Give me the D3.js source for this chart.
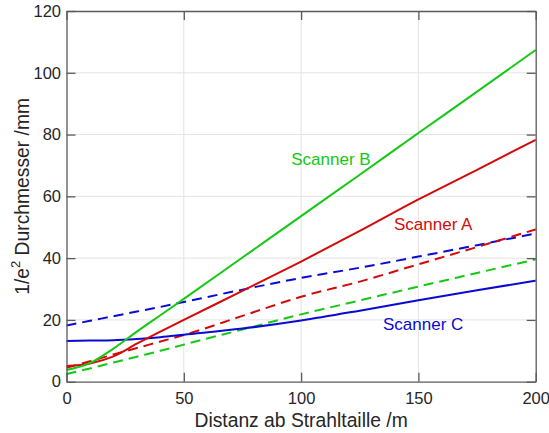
<!DOCTYPE html>
<html>
<head>
<meta charset="utf-8">
<script src="https://cdn.jsdelivr.net/npm/d3@7"></script>
<style>
  body { margin: 0; background: #fff; }
  text { font-family: "Liberation Sans", Arial, Helvetica, sans-serif; }
</style>
</head>
<body>
<svg id="chart"></svg>
<script>
// distance from beam waist in m
var distances = [0, 10, 20, 30, 40, 50, 75, 100, 125, 150, 175, 200];

// 1/e^2 diameter in mm
var scannerA = [5.1, 5.9, 8.2, 12.3, 16.2, 20.0, 29.4, 38.9, 48.8, 59.0, 68.6, 78.3];
var scannerB = [3.8, 6.0, 10.7, 16.2, 21.5, 26.8, 40.2, 53.6, 67.0, 80.5, 93.9, 107.4];
var scannerC = [13.2, 13.3, 13.4, 13.8, 14.4, 15.2, 17.2, 19.8, 23.0, 26.4, 29.6, 32.7];
var scannerAdash = [4.5, 6.6, 8.8, 10.9, 13.0, 15.1, 21.3, 27.5, 32.4, 38.0, 43.6, 49.3];
var scannerBdash = [2.5, 4.3, 6.2, 8.1, 10.0, 12.0, 16.9, 21.8, 26.3, 30.8, 35.2, 39.6];
var scannerCdash = [18.2, 19.7, 21.2, 22.7, 24.2, 25.8, 29.8, 33.6, 36.9, 40.5, 44.2, 48.0];

var xTicks = [0, 50, 100, 150, 200];
var yTicks = [0, 20, 40, 60, 80, 100, 120];

var series = [
  {values: scannerCdash, color: '#0a0ad2', dash: '10,6'},
  {values: scannerAdash, color: '#d20a0a', dash: '10,6'},
  {values: scannerBdash, color: '#14c814', dash: '10,6'},
  {values: scannerC, color: '#0a0ad2', dash: null},
  {values: scannerA, color: '#d20a0a', dash: null},
  {values: scannerB, color: '#14c814', dash: null}
];

// label anchors in data units
var labels = [
  {text: 'Scanner B', x: 95.8, y: 70.3, color: '#14c814'},
  {text: 'Scanner A', x: 139.6, y: 49.0, color: '#d20a0a'},
  {text: 'Scanner C', x: 134.9, y: 16.6, color: '#0a0ad2'}
];

var W = 549, H = 433;
var margin = {left: 66.5, right: 13.3, top: 11, bottom: 51.3};

var svg = d3.select('#chart').attr('width', W).attr('height', H);

var x = d3.scaleLinear().domain([0, 200]).range([margin.left, W - margin.right]);
var y = d3.scaleLinear().domain([0, 120]).range([H - margin.bottom, margin.top]);

var axisColor = '#5a5a5a', textColor = '#262626', gridColor = '#e3e3e3';

// grid
var grid = svg.append('g');
grid.selectAll('line.gx').data(xTicks.slice(1, -1)).enter().append('line')
  .attr('x1', function(d){ return x(d); }).attr('x2', function(d){ return x(d); })
  .attr('y1', y(0)).attr('y2', y(120))
  .attr('stroke', gridColor).attr('stroke-width', 1);
grid.selectAll('line.gy').data(yTicks.slice(1, -1)).enter().append('line')
  .attr('y1', function(d){ return y(d); }).attr('y2', function(d){ return y(d); })
  .attr('x1', x(0)).attr('x2', x(200))
  .attr('stroke', gridColor).attr('stroke-width', 1);

// lines
var line = d3.line()
  .x(function(d, i){ return x(distances[i]); })
  .y(function(d){ return y(d); })
  .curve(d3.curveMonotoneX);

svg.append('g').selectAll('path').data(series).enter().append('path')
  .attr('d', function(s){ return line(s.values); })
  .attr('fill', 'none')
  .attr('stroke', function(s){ return s.color; })
  .attr('stroke-width', 2)
  .attr('stroke-dasharray', function(s){ return s.dash; });

// axes, ticks inside, box on
var tl = 9;
var xB = svg.append('g').attr('transform', 'translate(0,' + y(0) + ')')
  .call(d3.axisBottom(x).tickValues(xTicks).tickSizeInner(-tl).tickSizeOuter(0).tickPadding(10.5));
var xT = svg.append('g').attr('transform', 'translate(0,' + y(120) + ')')
  .call(d3.axisTop(x).tickValues(xTicks).tickSizeInner(-tl).tickSizeOuter(0).tickFormat(''));
var yL = svg.append('g').attr('transform', 'translate(' + x(0) + ',0)')
  .call(d3.axisLeft(y).tickValues(yTicks).tickSizeInner(-tl).tickSizeOuter(0).tickPadding(5.5));
var yR = svg.append('g').attr('transform', 'translate(' + x(200) + ',0)')
  .call(d3.axisRight(y).tickValues(yTicks).tickSizeInner(-tl).tickSizeOuter(0).tickFormat(''));

[xB, xT, yL, yR].forEach(function(g){
  g.select('.domain').attr('stroke', axisColor).attr('stroke-width', 1.3);
  g.selectAll('.tick line').attr('stroke', axisColor).attr('stroke-width', 1.3);
  g.selectAll('.tick text').attr('fill', textColor)
    .style('font-size', '16.5px').style('font-family', '"Liberation Sans", Arial, sans-serif');
});

// curve labels
svg.append('g').selectAll('text').data(labels).enter().append('text')
  .attr('x', function(d){ return x(d.x); })
  .attr('y', function(d){ return y(d.y); })
  .attr('fill', function(d){ return d.color; })
  .style('font-size', '17px')
  .text(function(d){ return d.text; });

// axis titles
svg.append('text')
  .attr('x', (x(0) + x(200)) / 2).attr('y', 427)
  .attr('text-anchor', 'middle')
  .attr('fill', textColor)
  .style('font-size', '19.3px')
  .text('Distanz ab Strahltaille /m');

var yt = svg.append('text')
  .attr('transform', 'translate(28.5,' + ((y(0) + y(120)) / 2) + ') rotate(-90)')
  .attr('text-anchor', 'middle')
  .attr('fill', textColor)
  .style('font-size', '19.3px');
yt.append('tspan').text('1/e');
yt.append('tspan').attr('dy', -9).style('font-size', '13px').text('2');
yt.append('tspan').attr('dy', 9).text(' Durchmesser /mm');
</script>
</body>
</html>
